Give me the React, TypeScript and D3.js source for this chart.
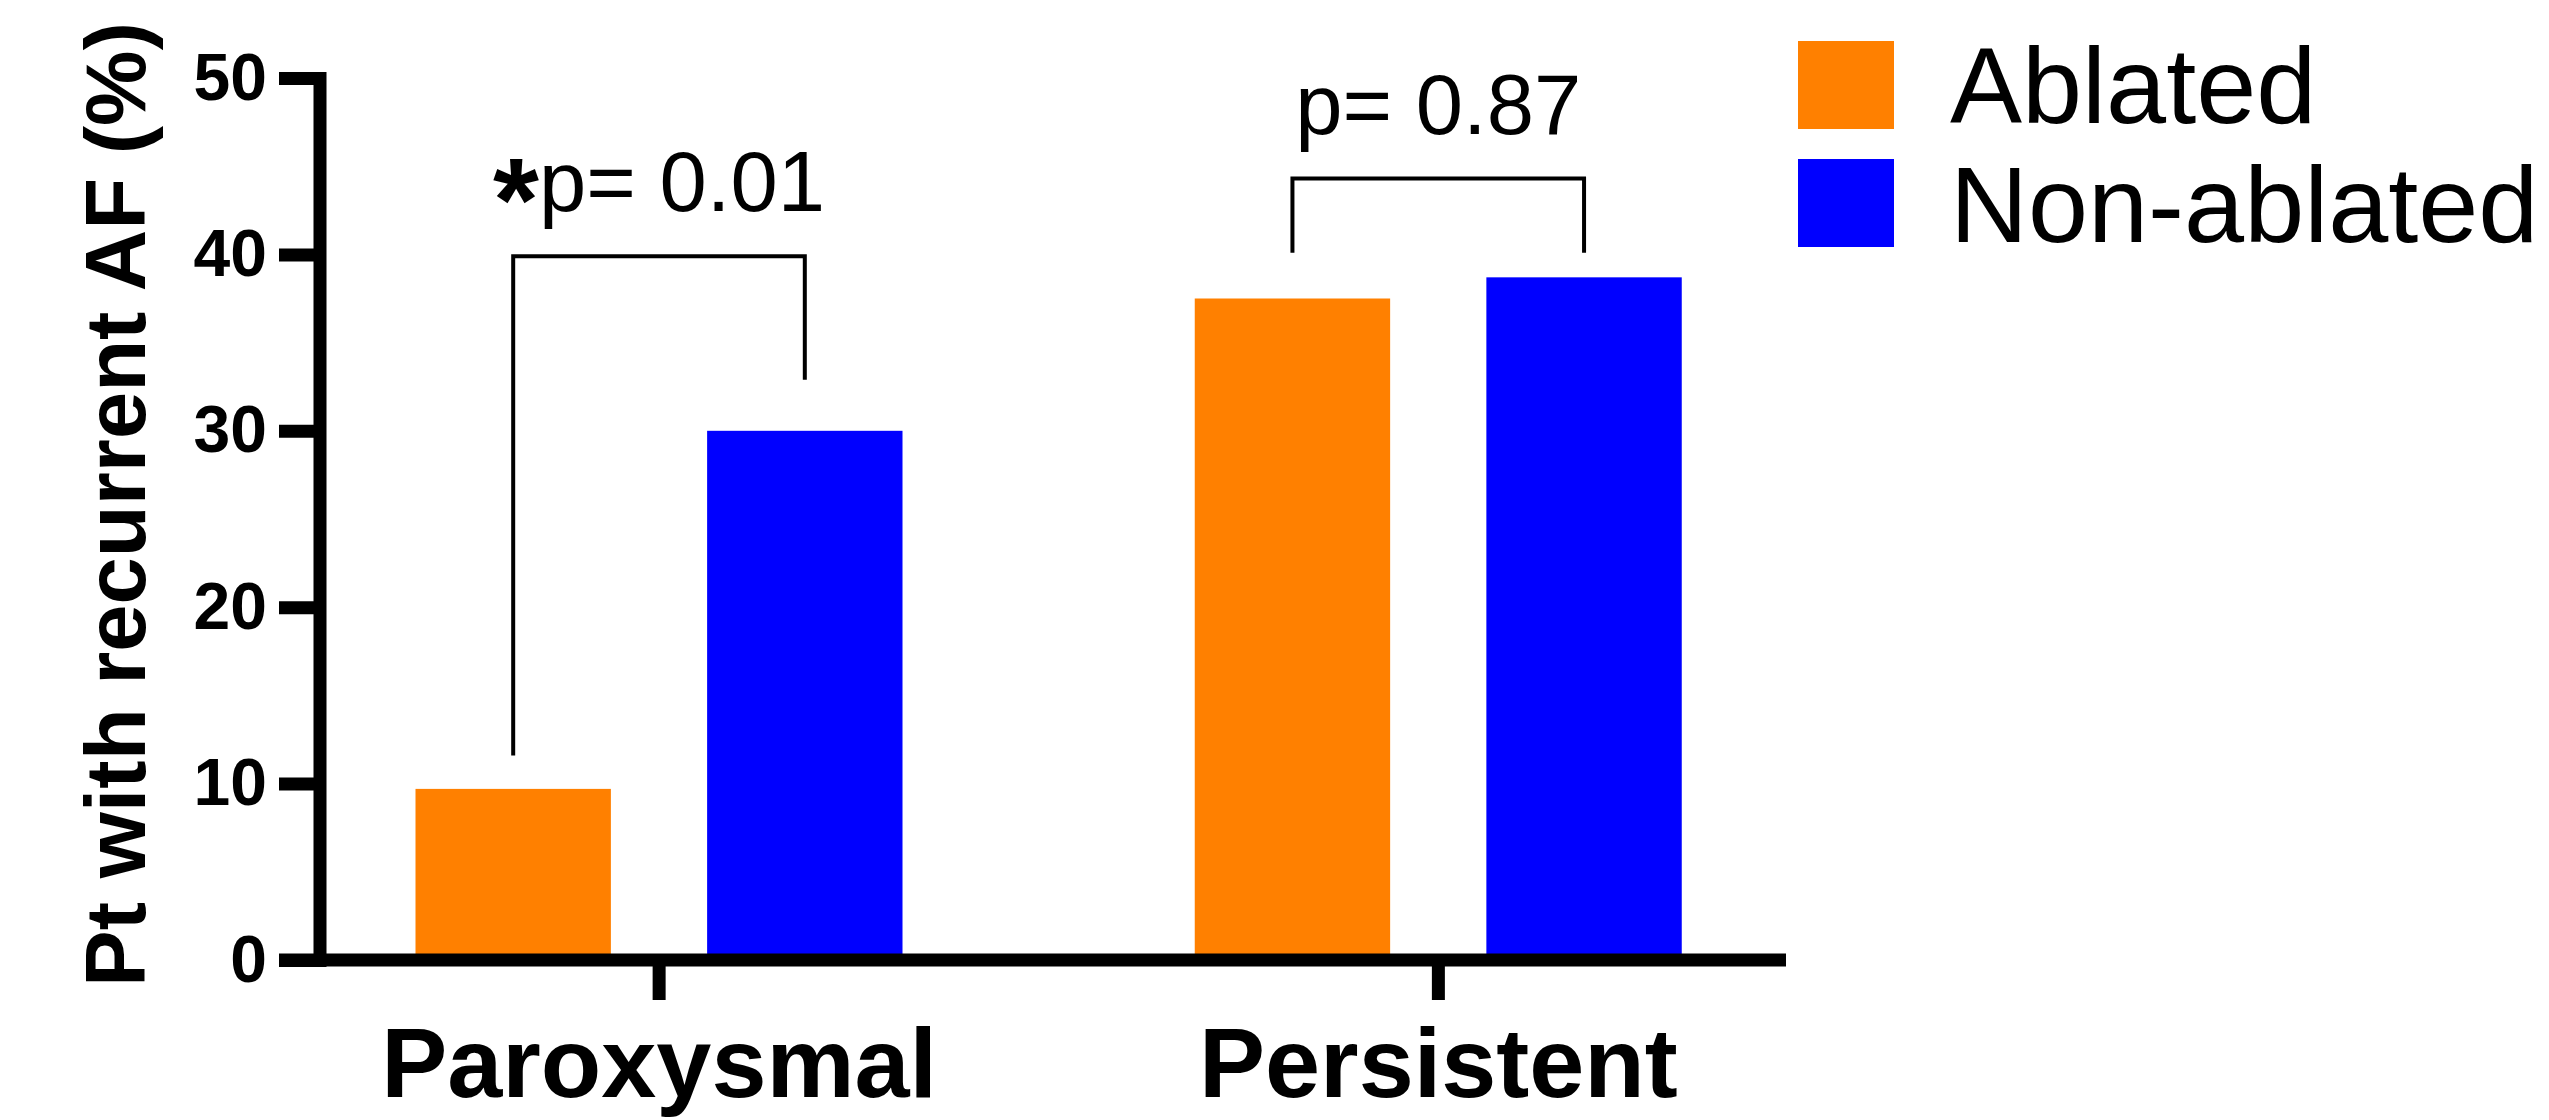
import React, { useEffect, useRef } from "react";
import * as d3 from "d3";

const categories = ["Paroxysmal", "Persistent"];
const seriesNames = ["Ablated", "Non-ablated"];
const seriesColors = ["#FF8000", "#0000FF"];
const ablated = [9.7, 37.5];
const nonAblated = [30, 38.7];
const yTicks = [0, 10, 20, 30, 40, 50];
const pLabels = ["p= 0.01", "p= 0.87"];
const pStar = [true, false];
const bracketTop = [39.9, 44.3];
const bracketLegEnd = [
  [11.6, 32.9],
  [40.1, 40.1],
];

const App = () => {
  const ref = useRef<SVGSVGElement>(null);

  useEffect(() => {
    drawChart();
  }, []);

  const drawChart = () => {
    const w = 2549;
    const h = 1120;
    const font = "'Liberation Sans', Arial, Helvetica, sans-serif";
    const svg = d3.select(ref.current);
    svg.selectAll("*").remove();
    svg.attr("width", w).attr("height", h);

    const axisX = 319.5;
    const axisY = 960;

    const y = d3.scaleLinear().domain([0, 50]).range([axisY, 78]);
    const x0 = d3.scaleBand().domain(categories).range([269.5, 1828]).paddingInner(0).paddingOuter(0);
    const x1 = d3.scaleBand().domain(seriesNames).range([146, 633]).paddingInner(0.33).paddingOuter(0);

    // bars
    const values = [ablated, nonAblated];
    categories.forEach((c, ci) => {
      seriesNames.forEach((s, si) => {
        const v = values[si][ci];
        svg.append("rect")
          .attr("x", x0(c)! + x1(s)!)
          .attr("y", y(v))
          .attr("width", x1.bandwidth())
          .attr("height", axisY - y(v))
          .attr("fill", seriesColors[si]);
      });
    });

    // y axis
    const gy = svg.append("g")
      .attr("transform", `translate(${axisX},0)`)
      .call(d3.axisLeft(y).tickValues(yTicks).tickSize(40.5).tickSizeOuter(0).tickPadding(12));
    gy.select(".domain").attr("stroke-width", 13).attr("stroke-linecap", "square").attr("stroke", "#000");
    gy.selectAll(".tick line").attr("stroke-width", 13).attr("stroke", "#000");
    gy.selectAll(".tick text")
      .attr("font-family", font)
      .attr("font-weight", "bold")
      .attr("font-size", 66)
      .attr("fill", "#000");

    // x axis
    svg.append("line")
      .attr("x1", 279).attr("x2", 1786)
      .attr("y1", axisY).attr("y2", axisY)
      .attr("stroke", "#000").attr("stroke-width", 13);
    const gx = svg.append("g")
      .attr("transform", `translate(0,${axisY})`)
      .call(d3.axisBottom(x0).tickSize(40).tickSizeOuter(0).tickPadding(27));
    gx.select(".domain").remove();
    gx.selectAll(".tick line").attr("stroke-width", 13).attr("stroke", "#000");
    gx.selectAll(".tick text")
      .attr("font-family", font)
      .attr("font-weight", "bold")
      .attr("font-size", 99)
      .attr("fill", "#000");

    // y title
    svg.append("text")
      .attr("transform", `translate(145,504.5) rotate(-90)`)
      .attr("text-anchor", "middle")
      .attr("font-family", font)
      .attr("font-weight", "bold")
      .attr("font-size", 85)
      .text("Pt with recurrent AF (%)");

    // significance brackets
    categories.forEach((c, ci) => {
      const xa = x0(c)! + x1(seriesNames[0])! + x1.bandwidth() / 2;
      const xb = x0(c)! + x1(seriesNames[1])! + x1.bandwidth() / 2;
      const top = y(bracketTop[ci]);
      const path = d3.path();
      path.moveTo(xa, y(bracketLegEnd[ci][0]));
      path.lineTo(xa, top);
      path.lineTo(xb, top);
      path.lineTo(xb, y(bracketLegEnd[ci][1]));
      svg.append("path")
        .attr("d", path.toString())
        .attr("fill", "none")
        .attr("stroke", "#000")
        .attr("stroke-width", 4);

      const t = svg.append("text")
        .attr("x", (xa + xb) / 2)
        .attr("y", top - 45)
        .attr("text-anchor", "middle")
        .attr("font-family", font)
        .attr("font-size", 85)
        .attr("fill", "#000");
      if (pStar[ci]) {
        t.append("tspan").attr("font-weight", "bold").attr("font-size", 118).attr("dy", 30).text("*");
        t.append("tspan").attr("dy", -30).text(pLabels[ci]);
      } else {
        t.append("tspan").text(pLabels[ci]);
      }
    });

    // legend
    const lg = svg.append("g");
    seriesNames.forEach((s, i) => {
      lg.append("rect")
        .attr("x", 1798)
        .attr("y", 41 + i * 118)
        .attr("width", 96)
        .attr("height", 88)
        .attr("fill", seriesColors[i]);
      lg.append("text")
        .attr("x", 1950)
        .attr("y", 123 + i * 119)
        .attr("font-family", font)
        .attr("font-size", 108)
        .attr("fill", "#000")
        .text(s);
    });
  };

  return (
    <div>
      <svg ref={ref} style={{ position: "absolute", left: 0, top: 0, background: "#fff" }} />
    </div>
  );
};

export default App;
